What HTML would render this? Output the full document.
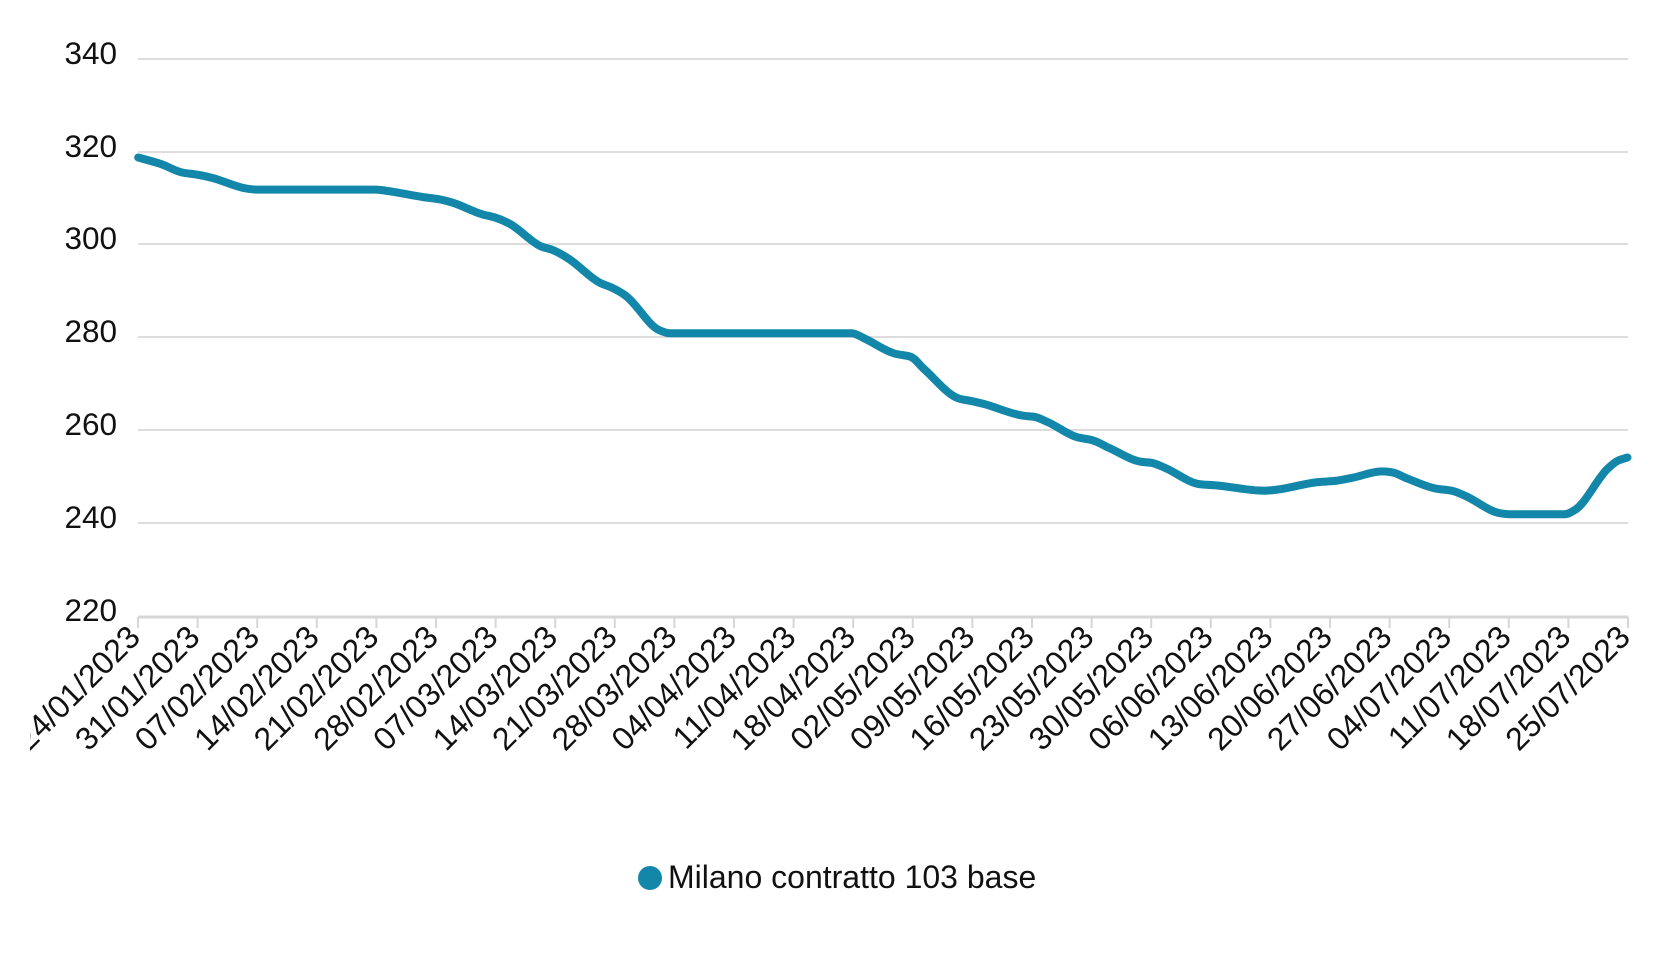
<!DOCTYPE html>
<html><head><meta charset="utf-8"><style>
html,body{margin:0;padding:0;background:#fff;}
svg{display:block;font-family:"Liberation Sans",sans-serif;}
</style></head><body>
<svg width="1680" height="960" viewBox="0 0 1680 960" xmlns="http://www.w3.org/2000/svg">
<defs><clipPath id="c"><rect x="30" y="0" width="1650" height="960"/></clipPath></defs>
<g stroke="#dddddd" stroke-width="2">
<line x1="138" y1="59" x2="1628" y2="59"/>
<line x1="138" y1="152" x2="1628" y2="152"/>
<line x1="138" y1="244" x2="1628" y2="244"/>
<line x1="138" y1="337" x2="1628" y2="337"/>
<line x1="138" y1="430" x2="1628" y2="430"/>
<line x1="138" y1="523" x2="1628" y2="523"/>
</g>
<line x1="138" y1="617" x2="1628" y2="617" stroke="#d6d6d6" stroke-width="3"/>
<g font-size="31.5" fill="#111" text-anchor="end">
<text x="117" y="64">340</text>
<text x="117" y="157">320</text>
<text x="117" y="249">300</text>
<text x="117" y="342">280</text>
<text x="117" y="435">260</text>
<text x="117" y="528">240</text>
<text x="117" y="621">220</text>
</g>
<g id="ticks" stroke="#d6d6d6" stroke-width="2"></g>
<g id="labels" font-size="32" fill="#111" text-anchor="end" clip-path="url(#c)"></g>
<g transform="scale(1.0714)">
<path id="ln" fill="none" stroke="#1387a9" stroke-width="7.5" stroke-linejoin="round" stroke-linecap="round" d=""/>
</g>
<circle cx="650" cy="878" r="12" fill="#1387a9"/>
<text x="668" y="888" font-size="32" fill="#111">Milano contratto 103 base</text>
</svg>
<script>
var d=["24/01/2023","31/01/2023","07/02/2023","14/02/2023","21/02/2023","28/02/2023","07/03/2023","14/03/2023","21/03/2023","28/03/2023","04/04/2023","11/04/2023","18/04/2023","02/05/2023","09/05/2023","16/05/2023","23/05/2023","30/05/2023","06/06/2023","13/06/2023","20/06/2023","27/06/2023","04/07/2023","11/07/2023","18/07/2023","25/07/2023"];
var ns="http://www.w3.org/2000/svg",T=document.getElementById("ticks"),L=document.getElementById("labels");
for(var i=0;i<26;i++){var x=138+i*59.6;
var l=document.createElementNS(ns,"line");l.setAttribute("x1",x);l.setAttribute("x2",x);l.setAttribute("y1",617);l.setAttribute("y2",628);T.appendChild(l);
var t=document.createElementNS(ns,"text");t.setAttribute("transform","translate("+(x+4)+",639) rotate(-45)");t.textContent=d[i];L.appendChild(t);}
var p=[[129,147],[150,153],[170,161],[184,163],[198,166],[230,176],[240,177],[350,177],[360,178],[395,184],[410,186],[422,189],[450,200],[462,203],[476,209],[505,230],[515,233],[530,241],[560,264],[570,268],[584,276],[615,308],[625,311],[795,311],[807,316],[835,330],[850,333],[862,344],[895,372],[905,374],[918,377],[955,388],[965,389],[978,394],[1005,408],[1020,411],[1035,418],[1065,431],[1075,432],[1088,437],[1120,452],[1135,453],[1180,458],[1192,457],[1230,450],[1245,449],[1262,446],[1290,440],[1300,441],[1312,446],[1340,456],[1355,458],[1368,463],[1400,479],[1410,480],[1460,480],[1470,476],[1500,438],[1510,430],[1519,427]];
var n=p.length,sl=[],m=[];
for(var k=0;k+1<n;k++)sl.push((p[k+1][1]-p[k][1])/(p[k+1][0]-p[k][0]));
m[0]=sl[0];m[n-1]=sl[n-2];
for(var k=1;k+1<n;k++){var a=sl[k-1],b=sl[k];m[k]=(a*b<=0)?0:2/(1/a+1/b);}
var s="M"+p[0][0]+","+p[0][1];
for(var k=0;k+1<n;k++){var dx=(p[k+1][0]-p[k][0])/3;
s+=" C"+(p[k][0]+dx)+","+(p[k][1]+m[k]*dx)+" "+(p[k+1][0]-dx)+","+(p[k+1][1]-m[k+1]*dx)+" "+p[k+1][0]+","+p[k+1][1];}
document.getElementById("ln").setAttribute("d",s);
</script>
</body></html>
